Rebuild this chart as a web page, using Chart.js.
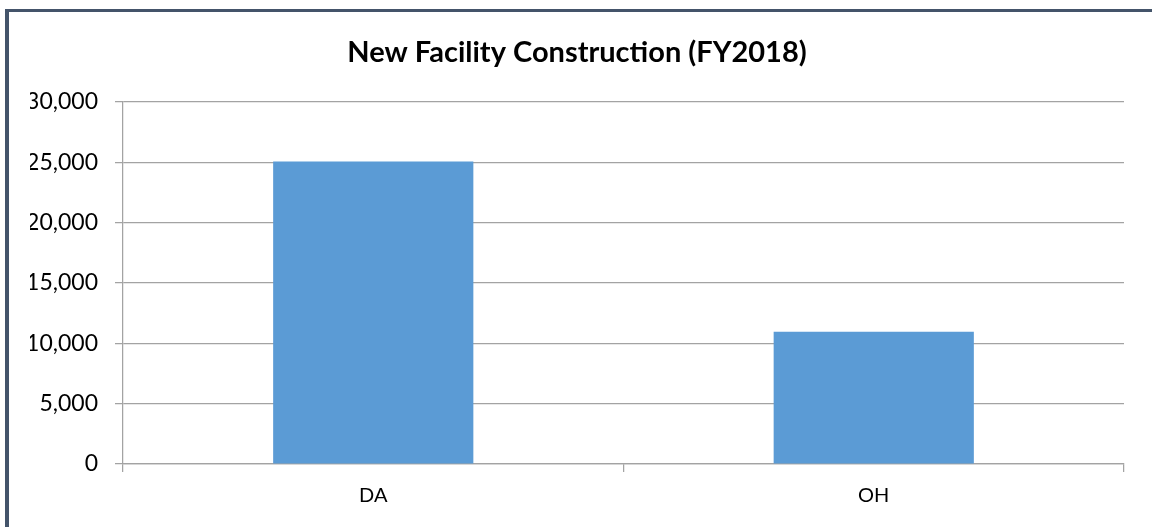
<!DOCTYPE html>
<html>
<head>
<meta charset="utf-8">
<script src="https://cdn.jsdelivr.net/npm/chart.js@4/dist/chart.umd.min.js"></script>
<style>
    html, body { margin: 0; padding: 0; background: #fff; overflow: hidden; }
    #wrap { position: absolute; left: 0; top: 0; width: 1152px; height: 527px; }
    #frame {
        position: absolute; left: 5px; top: 9px; width: 1143px; height: 540px;
        border-left: 4px solid #44546a; border-top: 3px solid #44546a; border-right: 3px solid #44546a;
        pointer-events: none;
    }
</style>
</head>
<body>
<div id="wrap">
    <canvas id="chart" width="1152" height="527"></canvas>
    <div id="frame"></div>
</div>
<script>
const title = 'New Facility Construction (FY2018)';
const categories = ['DA', 'OH'];
const values = [25050, 10950];
const yTicks = [0, 5000, 10000, 15000, 20000, 25000, 30000];

const font = 'Lato, "Noto Sans", sans-serif';
const gridColor = '#a3a3a3';

const ctx = document.getElementById('chart').getContext('2d');
new Chart(ctx, {
    type: 'bar',
    data: {
        labels: categories,
        datasets: [{
            data: values,
            backgroundColor: '#5b9bd5',
            borderWidth: 0,
            categoryPercentage: 0.4,
            barPercentage: 1.0,
        }],
    },
    options: {
        responsive: false,
        animation: false,
        // left and right padding equal so the title stays centred on the page
        layout: { padding: { left: 30, right: 28, top: 0, bottom: 0 } },
        plugins: {
            legend: { display: false },
            tooltip: { enabled: false },
            title: {
                display: true,
                text: title,
                color: '#000',
                font: { family: font, size: 29, weight: 'bold' },
                padding: { top: 35, bottom: 32 },
            },
        },
        scales: {
            x: {
                afterFit: (scale) => { scale.height = 63; },
                grid: {
                    display: true,
                    offset: true,
                    drawOnChartArea: false,
                    drawTicks: true,
                    tickLength: 8,
                    color: gridColor,
                    lineWidth: 1.25,
                },
                border: { display: true, color: gridColor, width: 1.25 },
                ticks: {
                    color: '#000',
                    font: { family: font, size: 20 },
                    padding: 12,
                },
            },
            y: {
                min: 0,
                max: 30000,
                afterFit: (scale) => { scale.width = 93; },
                afterBuildTicks: (scale) => { scale.ticks = yTicks.map(v => ({ value: v })); },
                grid: {
                    color: gridColor,
                    lineWidth: 1.25,
                    drawTicks: true,
                    tickLength: 8,
                },
                border: { display: true, color: gridColor, width: 1.25 },
                ticks: {
                    color: '#000',
                    font: { family: font, size: 23 },
                    padding: 17,
                    callback: (v) => v.toLocaleString('en-US'),
                },
            },
        },
    },
});
</script>
</body>
</html>
